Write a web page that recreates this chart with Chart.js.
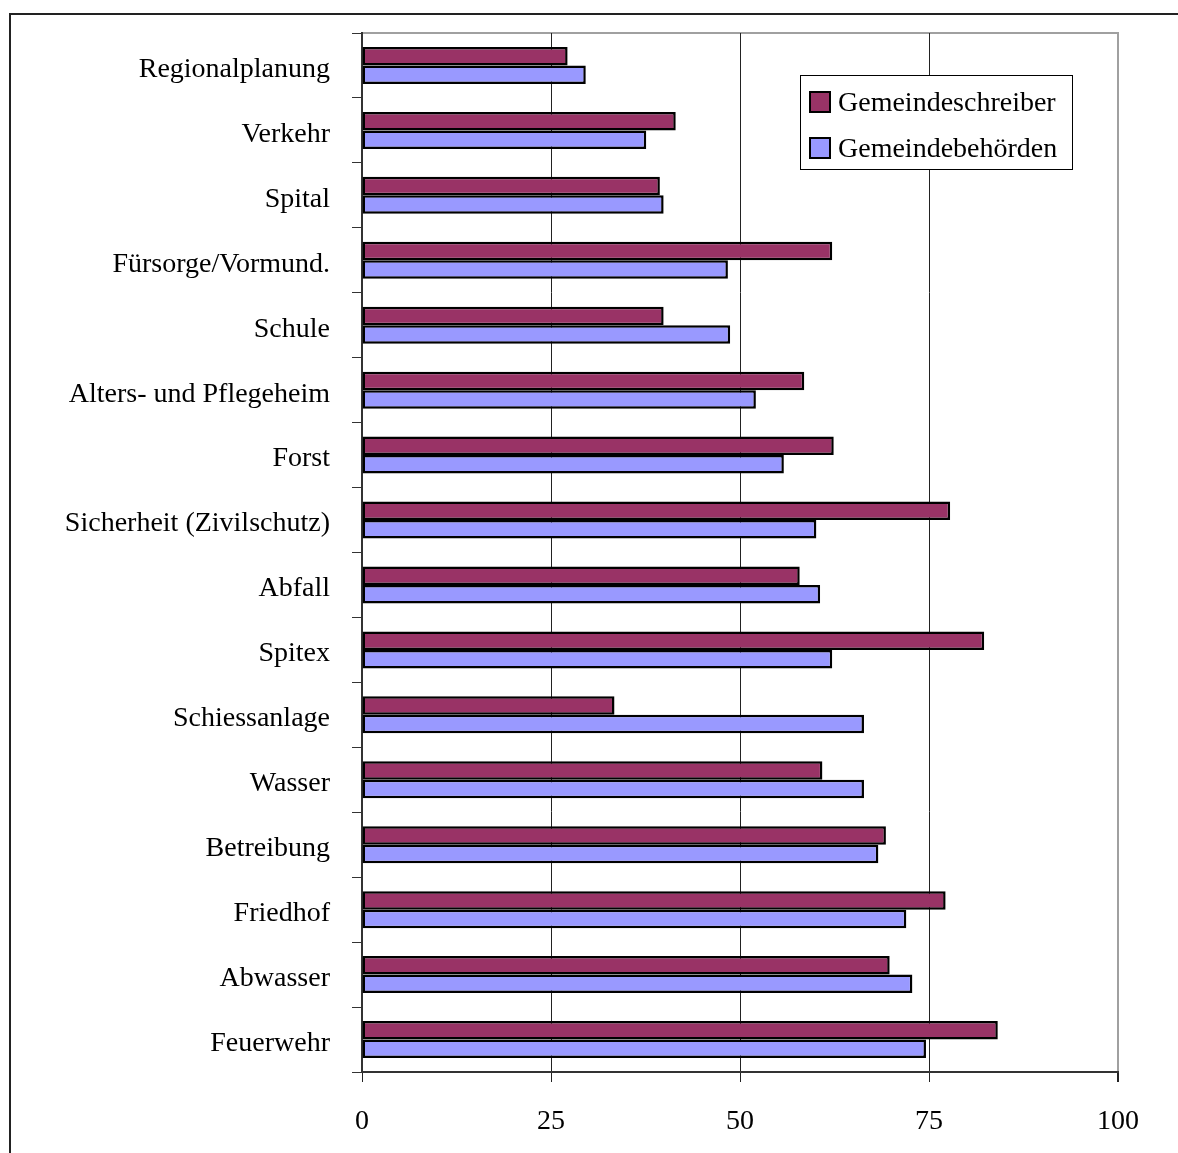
<!DOCTYPE html>
<html>
<head>
<meta charset="utf-8">
<script src="https://cdn.jsdelivr.net/npm/chart.js@4.4.1/dist/chart.umd.min.js"></script>
<style>
  html, body { margin: 0; padding: 0; background: #fff; }
  #wrap { position: relative; width: 1178px; height: 1153px; }
</style>
</head>
<body>
<div id="wrap"><canvas id="chart" width="1178" height="1153"></canvas></div>
<script>
// Categories, top to bottom
const categories = [
    'Regionalplanung', 'Verkehr', 'Spital', 'Fürsorge/Vormund.', 'Schule',
    'Alters- und Pflegeheim', 'Forst', 'Sicherheit (Zivilschutz)', 'Abfall',
    'Spitex', 'Schiessanlage', 'Wasser', 'Betreibung', 'Friedhof', 'Abwasser',
    'Feuerwehr'
];

// Series values (percent)
const gemeindeschreiber = [
    27.2, 41.5, 39.4, 62.2, 39.9, 58.5, 62.4, 77.8, 57.9, 82.3, 33.4, 60.9,
    69.3, 77.2, 69.8, 84.1
];
const gemeindebehoerden = [
    29.6, 37.6, 39.9, 48.4, 48.7, 52.1, 55.8, 60.1, 60.6, 62.2, 66.4, 66.4,
    68.3, 72.0, 72.8, 74.6
];

// X axis ticks
const xTicks = [0, 25, 50, 75, 100];

const FONT = { family: '"Liberation Serif", "Times New Roman", serif', size: 28 };

// Frame around the whole chart, gray border of the plot area, and the legend box
const framePlugin = {
    id: 'frame',
    beforeDraw(chart) {
        const ctx = chart.ctx;
        ctx.save();
        ctx.fillStyle = '#fff';
        ctx.fillRect(0, 0, chart.width, chart.height);
        ctx.strokeStyle = '#222';
        ctx.lineWidth = 2;
        ctx.beginPath();
        ctx.moveTo(10, chart.height);
        ctx.lineTo(10, 14);
        ctx.lineTo(chart.width, 14);
        ctx.stroke();
        const a = chart.chartArea;
        ctx.strokeStyle = '#a0a0a0';
        ctx.lineWidth = 2;
        ctx.beginPath();
        ctx.moveTo(a.left, a.top);
        ctx.lineTo(a.right, a.top);
        ctx.lineTo(a.right, a.bottom);
        ctx.stroke();
        ctx.restore();
    },
    afterDraw(chart) {
        const ctx = chart.ctx;
        const sets = chart.data.datasets;
        const box = { x: 800, y: 75, w: 272, h: 94 };
        ctx.save();
        ctx.fillStyle = '#fff';
        ctx.fillRect(box.x, box.y, box.w, box.h);
        ctx.strokeStyle = '#000';
        ctx.lineWidth = 1;
        ctx.strokeRect(box.x + 0.5, box.y + 0.5, box.w, box.h);
        ctx.font = FONT.size + 'px ' + FONT.family;
        ctx.textBaseline = 'middle';
        sets.forEach((ds, i) => {
            const cy = box.y + 27 + i * 46;
            ctx.fillStyle = ds.backgroundColor;
            ctx.fillRect(box.x + 10, cy - 10, 20, 20);
            ctx.lineWidth = 2;
            ctx.strokeStyle = '#000';
            ctx.strokeRect(box.x + 10, cy - 10, 20, 20);
            ctx.fillStyle = '#000';
            ctx.fillText(ds.label, box.x + 38, cy + 2);
        });
        ctx.restore();
    }
};

const ctx = document.getElementById('chart').getContext('2d');
new Chart(ctx, {
    type: 'bar',
    data: {
        labels: categories,
        datasets: [
            {
                label: 'Gemeindeschreiber',
                data: gemeindeschreiber,
                backgroundColor: '#993366',
                borderColor: '#000',
                borderWidth: 2.5,
                borderSkipped: false
            },
            {
                label: 'Gemeindebehörden',
                data: gemeindebehoerden,
                backgroundColor: '#9999ff',
                borderColor: '#000',
                borderWidth: 2.5,
                borderSkipped: false
            }
        ]
    },
    options: {
        indexAxis: 'y',
        responsive: false,
        animation: false,
        categoryPercentage: 0.57,
        barPercentage: 1.0,
        layout: { padding: { top: 33, right: 60, left: 0, bottom: 0 } },
        plugins: {
            legend: { display: false },
            tooltip: { enabled: false }
        },
        scales: {
            x: {
                min: 0,
                max: 100,
                afterFit(scale) {
                    scale.height = 81;
                    scale.paddingLeft = 0;
                    scale.paddingRight = 0;
                },
                afterBuildTicks(scale) { scale.ticks = xTicks.map(v => ({ value: v })); },
                border: { display: true, color: '#333', width: 2 },
                grid: {
                    color: c => c.tick.value === 100 ? '#a0a0a0' : (c.tick.value === 0 ? 'rgba(0,0,0,0)' : '#222'),
                    lineWidth: c => c.tick.value === 100 ? 2 : 1,
                    tickColor: '#222',
                    tickLength: 10
                },
                ticks: { color: '#000', font: FONT, padding: 23, maxRotation: 0 }
            },
            y: {
                afterFit(scale) {
                    scale.width = 362;
                    scale.paddingTop = 0;
                    scale.paddingBottom = 0;
                },
                border: { display: true, color: '#333', width: 2 },
                grid: {
                    drawOnChartArea: false,
                    tickColor: '#333',
                    tickLength: 10,
                    offset: true
                },
                ticks: { color: '#000', font: FONT, padding: 22, labelOffset: 4, autoSkip: false }
            }
        }
    },
    plugins: [framePlugin]
});
</script>
</body>
</html>
